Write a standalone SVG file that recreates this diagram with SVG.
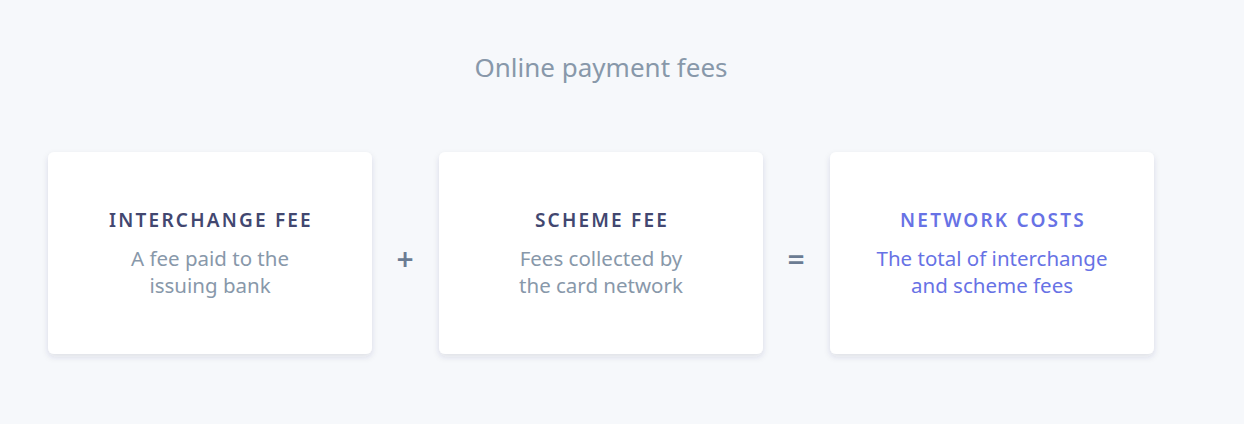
<svg xmlns="http://www.w3.org/2000/svg" width="1244" height="424" viewBox="0 0 1244 424">
<defs>
<filter id="sh" x="-10%" y="-10%" width="120%" height="130%">
<feDropShadow dx="0" dy="3" stdDeviation="3" flood-color="#32325d" flood-opacity="0.12"/>
</filter>
<style>
.card{fill:#ffffff;filter:url(#sh)}
.t{font-family:"Noto Sans","Open Sans",sans-serif;text-anchor:middle}
.title{font-size:26px;fill:#8898aa}
.h{font-size:19px;font-weight:600;letter-spacing:2.2px;fill:#424770}
.s{font-size:20.5px;fill:#8898aa}
.acc{fill:#6772e5}
.op{font-size:30px;font-weight:600;fill:#6b7c93}
</style>
</defs>
<rect width="1244" height="424" fill="#f6f8fb"/>
<text class="t title" x="601" y="77">Online payment fees</text>
<g id="interchange">
<rect class="card" x="48" y="152" width="324" height="202" rx="6"/>
<text class="t h" x="211" y="227">INTERCHANGE FEE</text>
<text class="t s" x="210" y="266">A fee paid to the</text>
<text class="t s" x="210" y="293">issuing bank</text>
</g>
<g id="scheme">
<rect class="card" x="439" y="152" width="324" height="202" rx="6"/>
<text class="t h" x="602" y="227">SCHEME FEE</text>
<text class="t s" x="601" y="266">Fees collected by</text>
<text class="t s" x="601" y="293">the card network</text>
</g>
<g id="network">
<rect class="card" x="830" y="152" width="324" height="202" rx="6"/>
<text class="t h acc" x="993" y="227">NETWORK COSTS</text>
<text class="t s acc" x="992" y="266">The total of interchange</text>
<text class="t s acc" x="992" y="293">and scheme fees</text>
</g>
<g id="connectors">
<text class="t op" x="405" y="270">+</text>
<text class="t op" x="796" y="270">=</text>
</g>
</svg>
